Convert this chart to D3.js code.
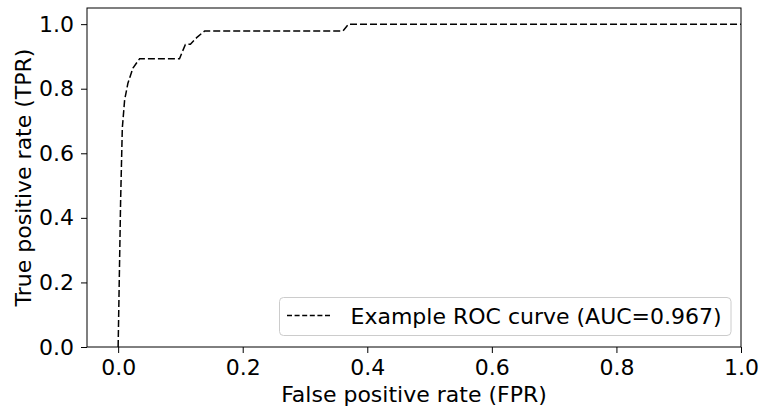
<!DOCTYPE html>
<html>
<head>
<meta charset="utf-8">
<script src="https://cdn.jsdelivr.net/npm/d3@7"></script>
<style>
  html, body { margin: 0; padding: 0; background: #fff; }
  svg { display: block; font-family: "DejaVu Sans", sans-serif; }
</style>
</head>
<body>
<svg id="chart" width="761" height="409"></svg>
<script>
// ROC curve points: false positive rate vs true positive rate
const fpr = [0, 0.002, 0.004, 0.0067, 0.0104, 0.0157, 0.0238, 0.0345, 0.0985, 0.1025, 0.108, 0.116, 0.127, 0.139, 0.361, 0.370, 1.0];
const tpr = [0, 0.23, 0.455, 0.678, 0.765, 0.817, 0.864, 0.893, 0.893, 0.912, 0.937, 0.938, 0.96, 0.979, 0.979, 1.0, 1.0];
const xTicks = [0.0, 0.2, 0.4, 0.6, 0.8, 1.0];
const yTicks = [0.0, 0.2, 0.4, 0.6, 0.8, 1.0];
const legendLabel = "Example ROC curve (AUC=0.967)";

const svg = d3.select("#chart");
const margin = { left: 87, right: 20, top: 8, bottom: 62 };
const W = 761, H = 409;
const fontSize = 22;

const x = d3.scaleLinear().domain([-0.05, 1.0]).range([margin.left, W - margin.right]);
const y = d3.scaleLinear().domain([0, 1.05]).range([H - margin.bottom, margin.top]);

const points = fpr.map((f, i) => [f, tpr[i]]);

// curve
svg.append("path")
  .datum(points)
  .attr("fill", "none")
  .attr("stroke", "#000")
  .attr("stroke-width", 1.5)
  .attr("stroke-dasharray", "7,3")
  .attr("d", d3.line().x(d => x(d[0])).y(d => y(d[1])));

// axes
const xAxis = d3.axisBottom(x).tickValues(xTicks).tickFormat(d3.format(".1f")).tickSize(6).tickPadding(6);
const yAxis = d3.axisLeft(y).tickValues(yTicks).tickFormat(d3.format(".1f")).tickSize(6).tickPadding(7);

const gx = svg.append("g").attr("transform", `translate(0,${H - margin.bottom})`).call(xAxis);
const gy = svg.append("g").attr("transform", `translate(${margin.left},0)`).call(yAxis);
[gx, gy].forEach(g => {
  g.select(".domain").remove();
  g.selectAll("line").attr("stroke", "#000").attr("stroke-width", 1);
  g.selectAll("text").attr("fill", "#000").style("font-size", fontSize + "px")
    .style("font-family", "DejaVu Sans, sans-serif");
});

// frame
svg.append("rect")
  .attr("x", margin.left).attr("y", margin.top)
  .attr("width", W - margin.right - margin.left)
  .attr("height", H - margin.bottom - margin.top)
  .attr("fill", "none").attr("stroke", "#000").attr("stroke-width", 1);

// axis titles, centred on the plot frame
svg.append("text")
  .attr("x", (margin.left + W - margin.right) / 2)
  .attr("y", 402)
  .attr("text-anchor", "middle")
  .style("font-size", fontSize + "px")
  .text("False positive rate (FPR)");

svg.append("text")
  .attr("transform", `translate(31,${(margin.top + H - margin.bottom) / 2}) rotate(-90)`)
  .attr("text-anchor", "middle")
  .style("font-size", fontSize + "px")
  .text("True positive rate (TPR)");

// legend
const lg = svg.append("g");
lg.append("rect")
  .attr("x", 279.5).attr("y", 297.5)
  .attr("width", 451.5).attr("height", 38)
  .attr("rx", 4).attr("ry", 4)
  .attr("fill", "#fff").attr("fill-opacity", 0.8)
  .attr("stroke", "#cccccc").attr("stroke-width", 1);
lg.append("line")
  .attr("x1", 287).attr("x2", 332)
  .attr("y1", 315.5).attr("y2", 315.5)
  .attr("stroke", "#000").attr("stroke-width", 1.5)
  .attr("stroke-dasharray", "5,2.6");
lg.append("text")
  .attr("x", 350.5).attr("y", 323.5)
  .style("font-size", fontSize + "px")
  .text(legendLabel);
</script>
</body>
</html>
